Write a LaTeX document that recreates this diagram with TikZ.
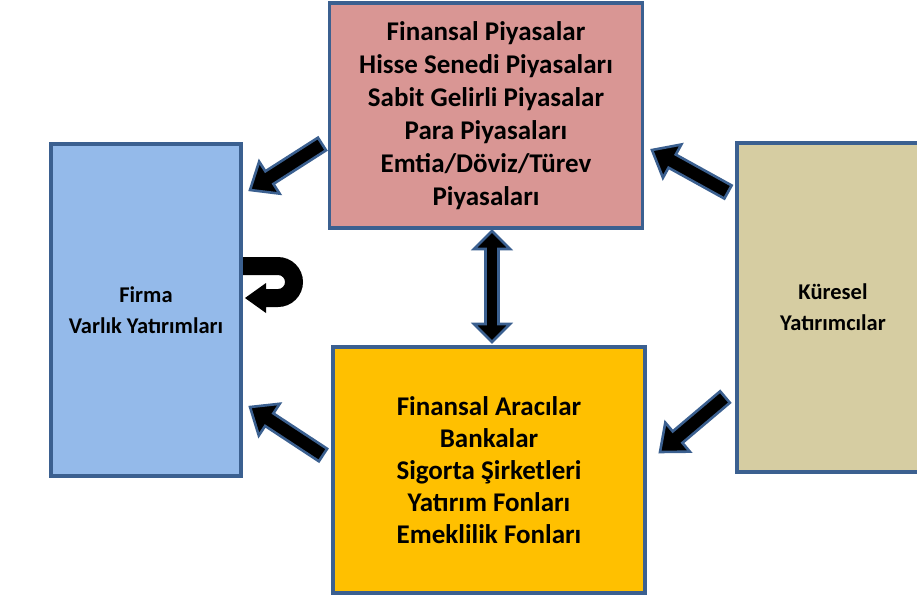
\documentclass[tikz,border=0pt]{standalone}
\usepackage{fontspec}
\setmainfont{Carlito}
\usetikzlibrary{calc}
\definecolor{bordc}{HTML}{3B6090}
\definecolor{pinkc}{HTML}{D99694}
\definecolor{bluec}{HTML}{94BAEA}
\definecolor{yelc}{HTML}{FFC000}
\definecolor{tanc}{HTML}{D6CDA2}
\newcommand\blockarrow[2]{%
  \draw[blk] let \p1=(#1), \p2=(#2),
    \n1={atan2(\y2-\y1,\x2-\x1)}, \n2={veclen(\x2-\x1,\y2-\y1)} in
    [shift={(\p1)}, rotate=\n1]
    (0pt,-7.5pt) -- (\n2-23pt,-7.5pt) -- (\n2-23pt,-19pt) -- (\n2,0pt)
    -- (\n2-23pt,19pt) -- (\n2-23pt,7.5pt) -- (0pt,7.5pt) -- cycle;}
\begin{document}
\begin{tikzpicture}[x=1pt,y=-1pt,
  box/.style={draw=bordc, line width=3.2pt, align=center, inner sep=0pt},
  bigtext/.style={font=\bfseries\fontsize{27}{33}\selectfont},
  smalltext/.style={font=\bfseries\fontsize{22.5}{31}\selectfont},
  blk/.style={fill=black, draw=bordc, line width=2.6pt, line join=miter}]
\clip (0,0) rectangle (917,598);
\fill[white] (0,0) rectangle (917,598);
% boxes
\node[box, bigtext, fill=pinkc, minimum width=313, minimum height=225] (fin) at (486,115.5)
  {Finansal Piyasalar\\Hisse Senedi Piyasaları\\Sabit Gelirli Piyasalar\\Para Piyasaları\\Emtia/Döviz/Türev\\Piyasaları};
\node[box, smalltext, fill=bluec, minimum width=190, minimum height=332] (firma) at (146,310)
  {Firma\\Varlık Yatırımları};
\node[box, font=\bfseries\fontsize{27}{32}\selectfont, fill=yelc, minimum width=312, minimum height=246] (arac) at (489,470)
  {Finansal Aracılar\\Bankalar\\Sigorta Şirketleri\\Yatırım Fonları\\Emeklilik Fonları};
\node[box, smalltext, fill=tanc, minimum width=192, minimum height=329] (kur) at (833,307.5)
  {Küresel\\Yatırımcılar};
% arrow end points
\coordinate (a1s) at (322,144); \coordinate (a1e) at (250,190);
\coordinate (a2s) at (728,192); \coordinate (a2e) at (652,150);
\coordinate (a3s) at (725,397); \coordinate (a3e) at (660,452);
\coordinate (a4s) at (323,455); \coordinate (a4e) at (250,407);
\blockarrow{a1s}{a1e}
\blockarrow{a2s}{a2e}
\blockarrow{a3s}{a3e}
\blockarrow{a4s}{a4e}
% double arrow between fin and arac
\coordinate (dt) at (492,231); \coordinate (db) at (492,342);
\draw[blk] (dt) -- ++(18,18) -- ++(-11.5,0) -- ++(0,75) -- ++(11.5,0) -- (db)
  -- ++(-18,-18) -- ++(11.5,0) -- ++(0,-75) -- ++(-11.5,0) -- cycle;
% u-turn symbol
\fill[black] (243,257) -- (278,257) arc[start angle=-90, end angle=90, radius=25]
  -- (266,307) -- (266,313) -- (245,298) -- (266,283) -- (266,289) -- (278,289)
  arc[start angle=90, end angle=-90, radius=7] -- (243,275) -- cycle;
\end{tikzpicture}
\end{document}
